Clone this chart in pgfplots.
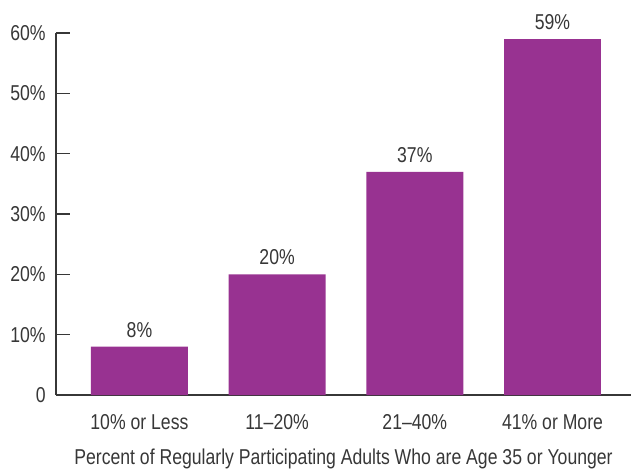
\documentclass[border=0pt]{standalone}
\usepackage{pgfplots}
\pgfplotsset{compat=1.18}
\usepackage{fontspec}
\setmainfont[FakeStretch=0.82]{Liberation Sans}
\definecolor{barpurple}{RGB}{152,50,145}
\definecolor{txt}{RGB}{55,55,55}
\newcommand{\lblfont}{\fontsize{21.5bp}{24bp}\selectfont}
\begin{document}
\lblfont
\begin{tikzpicture}
\begin{axis}[
  scale only axis,
  width=575bp, height=362bp,
  xmin=-0.606, xmax=3.57,
  ymin=0, ymax=60,
  axis x line=bottom, axis y line=left,
  axis line style={-, line width=1.2pt, color=txt},
  xtick=data,
  xticklabels={10\% or Less, 11--20\%, 21--40\%, 41\% or More},
  major x tick style={draw=none},
  ytick={0,10,20,30,40,50,60},
  yticklabels={0,10\%,20\%,30\%,40\%,50\%,60\%},
  tick align=inside,
  major tick length=14bp,
  y tick style={line width=1.2pt, color=txt},
  tick label style={font=\lblfont, color=txt},
  yticklabel style={xshift=-3bp},
  xticklabel style={yshift=2bp},
  xlabel={Percent of Regularly Participating Adults Who are Age 35 or Younger},
  xlabel style={font=\lblfont, color=txt, yshift=-5bp},
  /pgf/number format/assume math mode=true,
  ybar, bar width=0.704,
  nodes near coords={\pgfmathprintnumber{\pgfplotspointmeta}\%},
  nodes near coords style={font=\lblfont, color=txt, yshift=2bp},
  clip=false,
]
\addplot[fill=barpurple, draw=none] coordinates {(0,8) (1,20) (2,37) (3,59)};
\coordinate (bl) at (rel axis cs:0,0);
\coordinate (tr) at (rel axis cs:1,1);
\end{axis}
\pgfresetboundingbox
\path ([shift={(-56bp,-76bp)}]bl) rectangle ([shift={(0bp,33bp)}]tr);
\end{tikzpicture}
\end{document}
